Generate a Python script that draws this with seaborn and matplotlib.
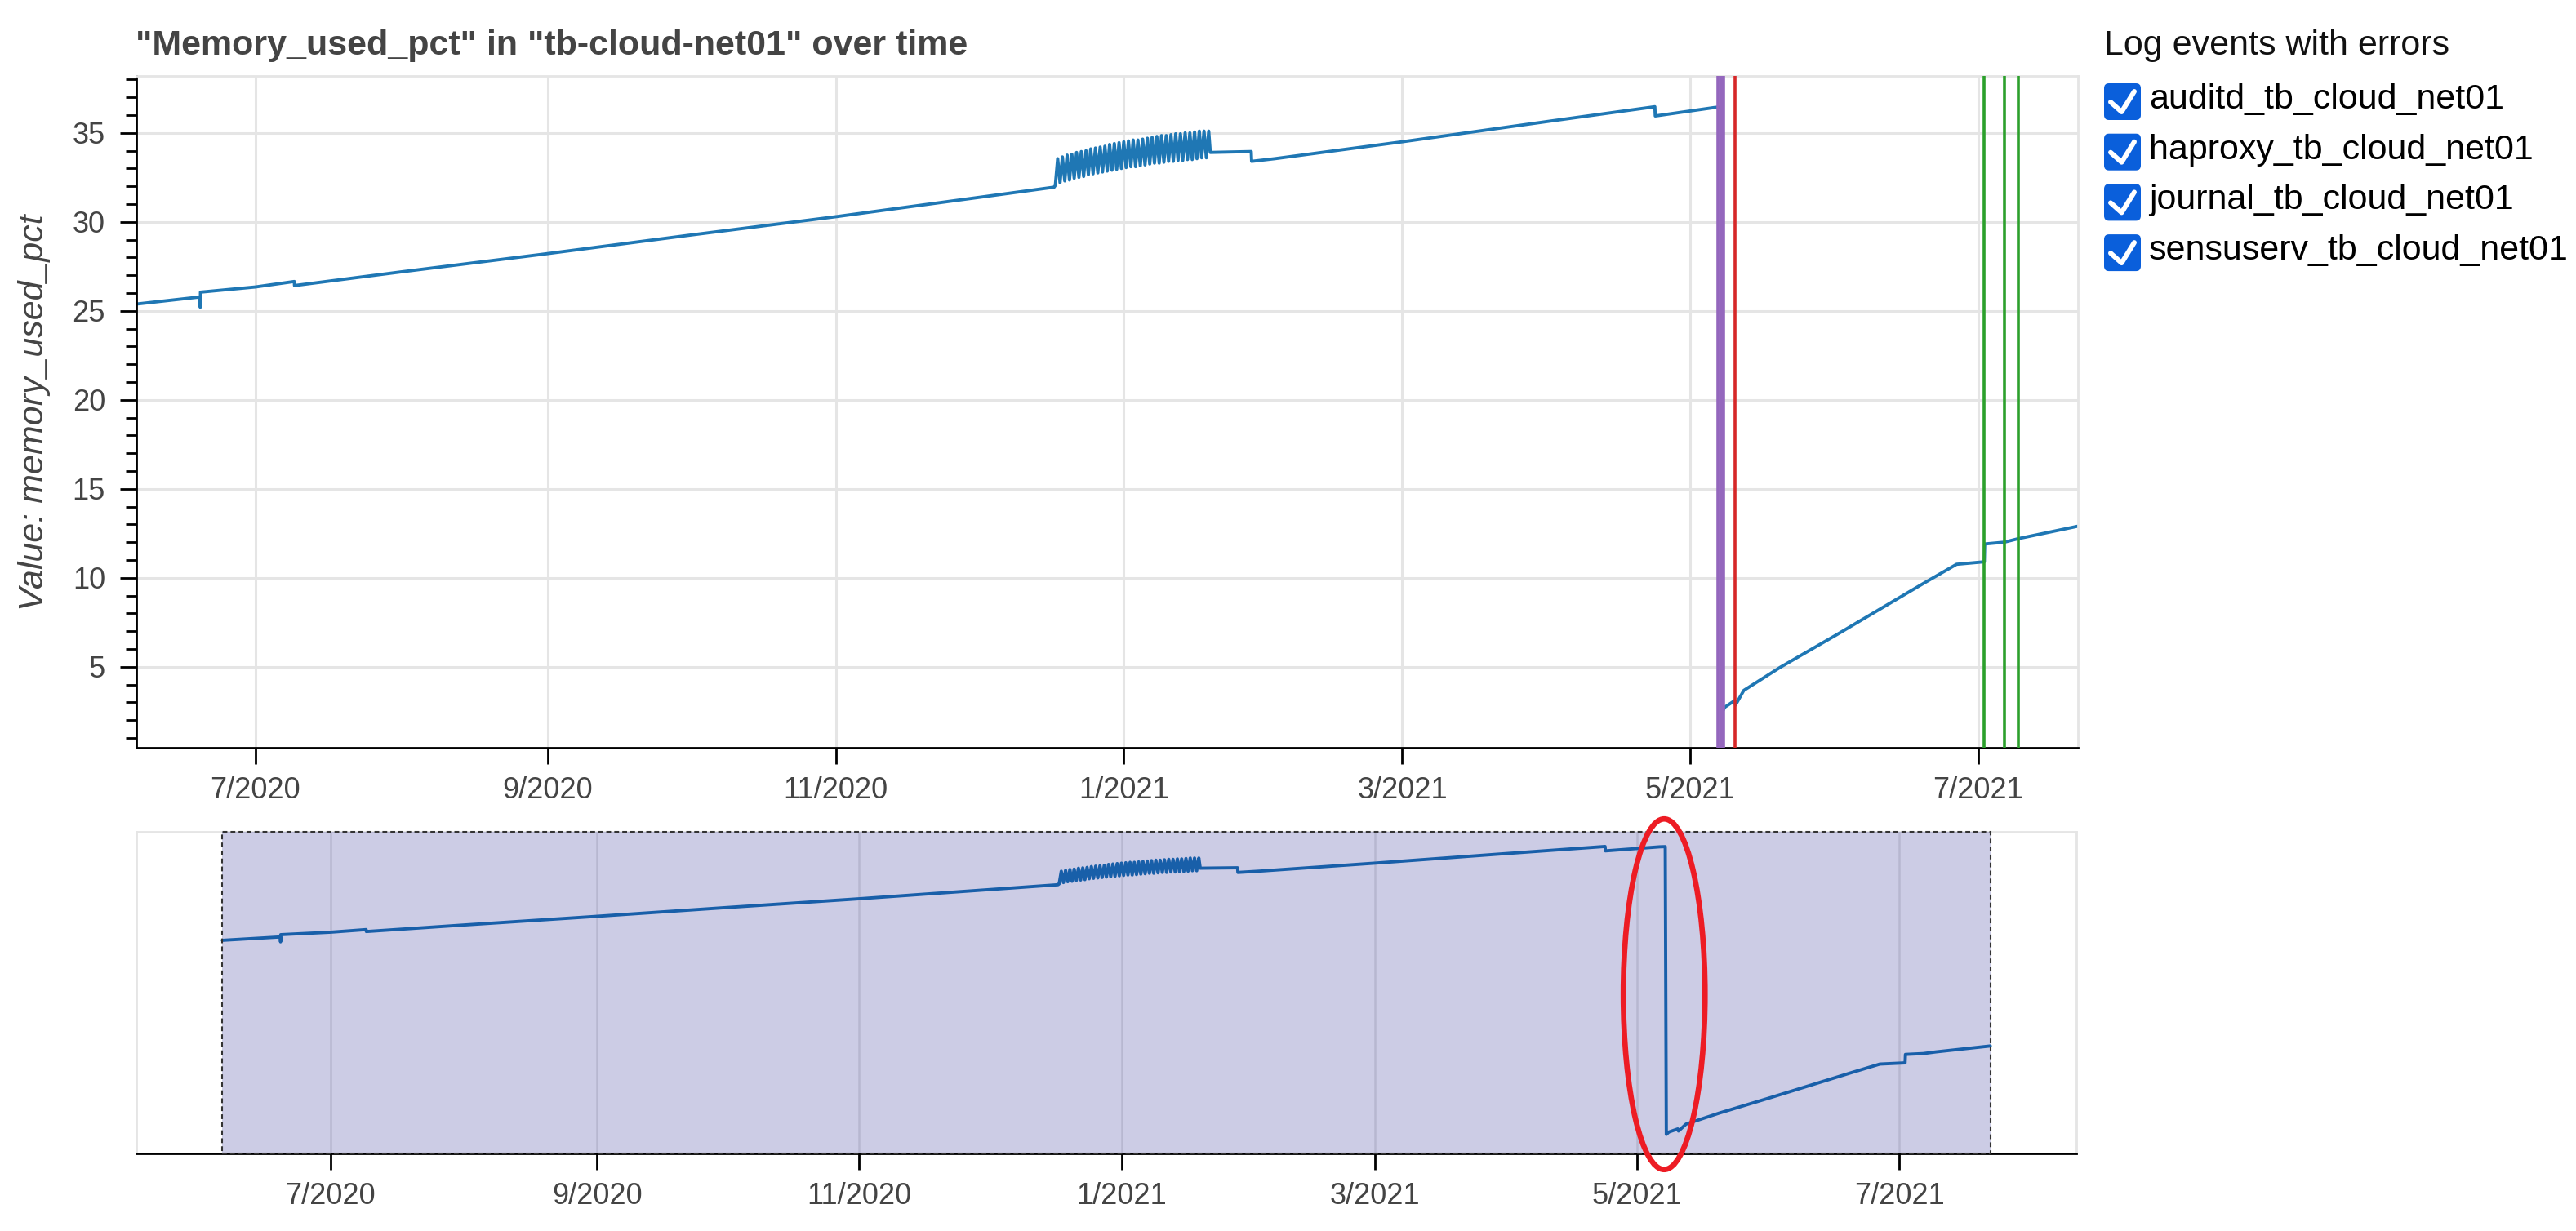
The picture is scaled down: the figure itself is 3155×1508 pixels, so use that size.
import pandas as pd
import matplotlib.pyplot as plt
import matplotlib.dates as mdates
import matplotlib.ticker as mticker
import matplotlib.transforms as mtransforms
from matplotlib.patches import Ellipse, Rectangle, FancyBboxPatch
from matplotlib.lines import Line2D
import seaborn as sns

sns.set_theme(style="white")
plt.rcParams['font.family'] = ['Liberation Sans', 'DejaVu Sans']

title = '"Memory_used_pct" in "tb-cloud-net01" over time'
y_label = "Value: memory_used_pct"
legend_title = "Log events with errors"

# memory_used_pct
head_times = ["2020-06-05 20:00", "2020-06-19 08:00", "2020-06-19 09:00", "2020-06-19 10:00",
              "2020-07-01 00:00", "2020-07-09 07:00", "2020-07-09 08:00", "2020-08-01 06:00",
              "2020-08-30 00:00", "2020-10-01 00:00", "2020-11-01 00:00", "2020-11-25 00:00",
              "2020-12-02 00:00", "2020-12-17 06:00"]
head_values = [25.38, 25.78, 25.20, 26.05, 26.34, 26.65, 26.42, 27.20,
               28.15, 29.25, 30.29, 31.15, 31.40, 31.95]

# daily swings mid december -> mid january
swing_start = "2020-12-17 12:00"
swing_troughs = [32.05, 32.20, 32.30, 32.35, 32.45, 32.50, 32.55, 32.65, 32.70, 32.75, 32.80,
                 32.85, 32.90, 32.95, 33.00, 33.05, 33.10, 33.10, 33.15, 33.20, 33.25, 33.30,
                 33.30, 33.35, 33.40, 33.40, 33.45, 33.45, 33.50, 33.50, 33.55, 33.60, 33.60]
swing_peaks = [33.55, 33.65, 33.75, 33.80, 33.90, 33.95, 34.00, 34.10, 34.15, 34.20, 34.25,
               34.35, 34.40, 34.45, 34.50, 34.55, 34.60, 34.60, 34.65, 34.70, 34.75, 34.80,
               34.85, 34.85, 34.90, 34.95, 34.95, 35.00, 35.00, 35.05, 35.10, 35.10, 35.10]

tail_times = ["2021-01-19 08:00", "2021-01-28 00:00", "2021-01-28 02:00", "2021-02-02 00:00",
              "2021-03-01 00:00", "2021-04-01 00:00", "2021-04-23 12:00", "2021-04-23 14:00",
              "2021-05-06 06:00", "2021-05-07 12:00", "2021-05-07 18:00", "2021-05-08 08:00",
              "2021-05-10 10:00", "2021-05-10 14:00", "2021-05-12 08:00", "2021-05-20 00:00",
              "2021-06-01 00:00", "2021-06-19 12:00", "2021-06-26 10:00", "2021-07-02 07:00",
              "2021-07-02 09:00", "2021-07-06 12:00", "2021-07-09 12:00", "2021-07-22 03:00"]
tail_values = [33.90, 33.95, 33.40, 33.55, 34.50, 35.65, 36.47, 35.95,
               36.43, 36.45, 2.45, 2.73, 3.10, 2.85, 3.67, 4.96,
               6.80, 9.70, 10.76, 10.90, 11.90, 12.00, 12.20, 12.90]

# log events with errors
log_sources = ["auditd_tb_cloud_net01", "haproxy_tb_cloud_net01",
               "journal_tb_cloud_net01", "sensuserv_tb_cloud_net01"]
event_colors = ["#9467bd", "#d62728", "#2ca02c", "#ff7f0e"]
event_dates = [["2021-05-06 22:00", "2021-05-07 08:00", "2021-05-07 18:00", "2021-05-08 02:00"],
               ["2021-05-10 12:00"],
               ["2021-07-02 05:00", "2021-07-06 14:00", "2021-07-09 14:00"],
               []]

highlight_date = "2021-05-07 06:00"

# build the table
day0 = pd.Timestamp(swing_start)
swing_times, swing_values = [], []
for k, (lo, hi) in enumerate(zip(swing_troughs, swing_peaks)):
    swing_times += [day0 + pd.Timedelta(days=k), day0 + pd.Timedelta(days=k, hours=12)]
    swing_values += [lo, hi]

df = pd.DataFrame({
    "time": list(pd.to_datetime(head_times)) + swing_times + list(pd.to_datetime(tail_times)),
    "value": head_values + swing_values + tail_values,
})
t0, t1 = df["time"].min(), df["time"].max()

W, H = 3155, 1508
fig = plt.figure(figsize=(W / 100, H / 100), dpi=100)
ax = fig.add_axes([167 / W, 1 - 916 / H, 2378 / W, 823 / H])
ax2 = fig.add_axes([167 / W, 1 - 1413 / H, 2376 / W, 394 / H])

line_color = "#1f77b4"
grey = "#e5e5e5"
text_grey = "#444444"

for a in (ax, ax2):
    sns.lineplot(data=df, x="time", y="value", ax=a, color=line_color, linewidth=2.8,
                 estimator=None, sort=False, zorder=2)
    a.set_xlabel("")
    a.set_ylabel("")
    a.xaxis.set_major_locator(mdates.MonthLocator(bymonth=[1, 3, 5, 7, 9, 11]))
    a.xaxis.set_major_formatter(mticker.FuncFormatter(
        lambda x, pos: f"{mdates.num2date(x).month}/{mdates.num2date(x).year}"))
    a.tick_params(axis="x", which="major", bottom=True, direction="out", length=14.4, width=2,
                  color="black", labelsize=26, labelcolor=text_grey, pad=11)
    a.set_axisbelow(True)
    for s in ["top", "right", "left"]:
        a.spines[s].set_color(grey)
        a.spines[s].set_linewidth(2)
    a.spines["bottom"].set_color("black")
    a.spines["bottom"].set_linewidth(2)

# main view
ax.set_xlim(t0, t1)
ax.set_ylim(0.45, 38.2)
ax.yaxis.set_major_locator(mticker.MultipleLocator(5))
ax.yaxis.set_minor_locator(mticker.MultipleLocator(1))
ax.tick_params(axis="y", which="major", left=True, direction="out", length=14.4, width=2,
               color="black", labelsize=26, labelcolor=text_grey, pad=13)
ax.tick_params(axis="y", which="minor", left=True, direction="out", length=9.4, width=2,
               color="black")
ax.spines["left"].set_color("black")
ax.grid(True, which="major", color=grey, linewidth=2.2)

for color, dates in zip(event_colors, event_dates):
    for d in dates:
        ax.axvline(pd.Timestamp(d), color=color, linewidth=2.6, zorder=3)

# range overview
ax2.set_xlim(t0 - pd.Timedelta(days=20), t1 + pd.Timedelta(days=20))
ax2.set_ylim(0.2, 38.2)
ax2.set_yticks([])
ax2.grid(True, axis="x", color=grey, linewidth=1.8)

blend = mtransforms.blended_transform_factory(ax2.transData, ax2.transAxes)
x0, x1 = mdates.date2num(t0), mdates.date2num(t1)
ax2.add_patch(Rectangle((x0, 0), x1 - x0, 1, transform=blend, facecolor=(0, 0, 0.5, 0.2),
                        edgecolor="none", zorder=3))
ax2.add_patch(Rectangle((x0, 0), x1 - x0, 1, transform=blend, fill=False, edgecolor="#333333",
                        linewidth=1.5, linestyle=(0, (2.8, 1.9)), clip_on=False, zorder=4))
ax2.add_patch(Ellipse((mdates.date2num(pd.Timestamp(highlight_date)), 0.495), width=19,
                      height=1.09, transform=blend, fill=False, edgecolor="#ed1c24",
                      linewidth=4.8, clip_on=False, zorder=5))

# titles
fig.text(166 / W, 1 - 67 / H, title, fontsize=31, fontweight="bold", color=text_grey,
         va="baseline")
fig.text(42 / W, 1 - 505 / H, y_label, fontsize=31, style="italic", color=text_grey,
         rotation=90, ha="center", va="center")

# checkbox legend
fig.text(2577 / W, 1 - 67 / H, legend_title, fontsize=31, color="#111111", va="baseline")
box_x, box_size = 2577, 45
for i, name in enumerate(log_sources):
    top = 102 + i * 61.7
    fig.add_artist(FancyBboxPatch((box_x / 100, (H - top - box_size) / 100), box_size / 100,
                                  box_size / 100, boxstyle="round,pad=0,rounding_size=0.06",
                                  transform=fig.dpi_scale_trans, facecolor="#0a5fdb",
                                  edgecolor="none"))
    cx = [(box_x + dx) / 100 for dx in (8, 21.5, 37)]
    cy = [(H - top - dy) / 100 for dy in (23, 35, 10)]
    fig.add_artist(Line2D(cx, cy, transform=fig.dpi_scale_trans, color="white", linewidth=4.3,
                          solid_capstyle="round", solid_joinstyle="round"))
    fig.text(2632 / W, 1 - (top + 31) / H, name, fontsize=31, color="black", va="baseline")

fig.savefig("out.png", dpi=100)
